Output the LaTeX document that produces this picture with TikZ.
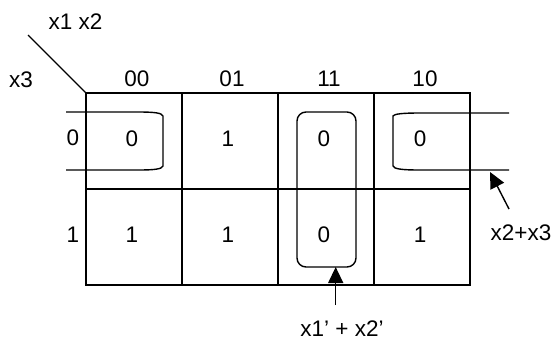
\documentclass[tikz,border=0pt]{standalone}
\usepackage{fontspec}
\setmainfont{Liberation Sans}
\usetikzlibrary{arrows.meta}
\begin{document}
\begin{tikzpicture}[x=1pt,y=-1pt,
  every node/.style={font=\fontsize{22.5}{25}\selectfont, inner sep=0pt, anchor=center},
  gridline/.style={line width=1.4pt},
  grp/.style={line width=1.4pt},
  ptr/.style={line width=1.4pt, -{Triangle[length=16pt,width=15pt]}}]
\useasboundingbox (0,0) rectangle (556,341);
% grid
\draw[gridline] (86,93) rectangle (470,285);
\draw[gridline] (182,93) -- (182,285);
\draw[gridline] (278,93) -- (278,285);
\draw[gridline] (374,93) -- (374,285);
\draw[gridline] (86,189) -- (470,189);
\draw[gridline] (28,35) -- (86,93);
% labels
\node (lx12) at (75.5,21.5) {x1 x2};
\node (lx3) at (21,79.5) {x3};
\node (c00) at (137,79) {00};
\node (c01) at (232,79) {01};
\node (c11) at (329,79) {11};
\node (c10) at (425,79) {10};
\node (r0) at (73,138) {0};
\node (r1) at (73,235) {1};
% cells
\node (a00) at (132,139) {0};
\node (a01) at (228,139) {1};
\node (a11) at (324,139) {0};
\node (a10) at (420,139) {0};
\node (b00) at (132,235) {1};
\node (b01) at (228,235) {1};
\node (b11) at (324,235) {0};
\node (b10) at (420,235) {1};
% groups
\draw[grp] (66,112) -- (138,112) .. controls (155,112) and (162,113) .. (163,116)
  -- (163,166) .. controls (162,169) and (155,170) .. (138,170) -- (66,170);
\draw[grp] (509,113) -- (420,113) .. controls (402,113) and (394,114) .. (393,116)
  -- (393,166) .. controls (394,169) and (402,170) .. (420,170) -- (509,170);
\draw[grp, rounded corners=9pt] (297,112) rectangle (356,267);
\coordinate (gbot) at (335.7,267);
\coordinate (gright) at (490,172);
% pointers
\node (lab1) at (342,328.5) {x1' + x2'};
\node (lab2) at (521,233) {x2+x3};
\coordinate (t1) at (335.7,305);
\coordinate (t2) at (509,209);
\draw[ptr] (t1) -- (gbot);
\draw[ptr] (t2) -- (gright);
\end{tikzpicture}
\end{document}
